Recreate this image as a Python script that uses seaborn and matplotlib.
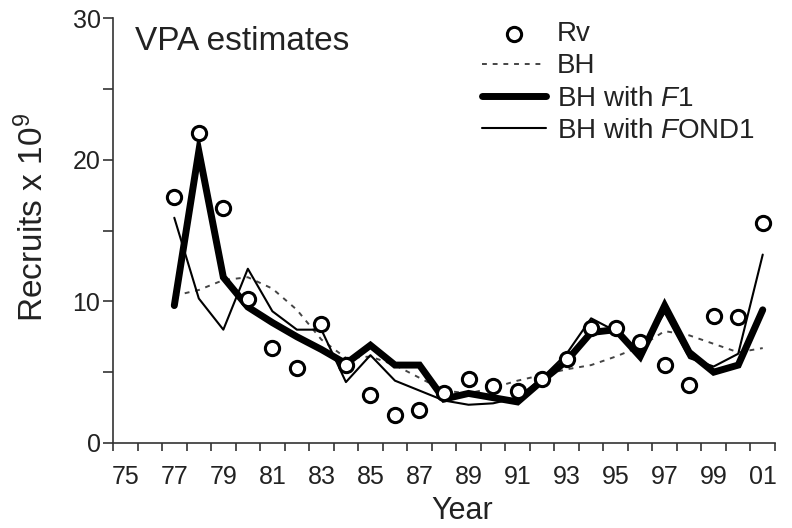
# VPA recruitment estimates vs Beverton-Holt fits
import numpy as np
import pandas as pd
import matplotlib.pyplot as plt
import seaborn as sns
from matplotlib.ticker import FixedLocator, MultipleLocator

# values (recruits x 10^9)
years = list(range(1977, 2002))
rv = [17.4, 21.9, 16.6, 10.2, 6.7, 5.3, 8.4, 5.5, 3.4, 2.0, 2.3, 3.5, 4.5,
      4.0, 3.7, 4.5, 5.9, 8.1, 8.1, 7.1, 5.5, 4.1, 9.0, 8.9, 15.5]
bh = [10.4, 10.8, 11.5, 11.7, 10.9, 9.4, 7.3, 6.0, 6.1, 5.5, 4.6, 3.7, 3.5,
      3.9, 4.4, 4.8, 5.2, 5.5, 6.1, 6.8, 7.9, 7.6, 7.0, 6.4, 6.7]
bh_f1 = [9.7, 20.6, 11.7, 9.6, 8.5, 7.5, 6.6, 5.6, 6.9, 5.5, 5.5, 3.1, 3.5,
         3.2, 2.9, 4.4, 5.8, 7.8, 8.0, 6.1, 9.7, 6.4, 5.0, 5.5, 9.4]
bh_fond1 = [15.9, 10.2, 8.0, 12.3, 9.3, 8.0, 8.0, 4.3, 6.2, 4.4, 3.7, 3.0, 2.7,
            2.8, 3.2, 4.6, 6.3, 8.8, 7.9, 6.5, 9.2, 6.0, 5.4, 6.3, 13.3]

df = pd.DataFrame({'year': years, 'rv': rv, 'bh': bh,
                   'f1': bh_f1, 'fond1': bh_fond1})

sns.set_style('ticks')
plt.rcParams['font.family'] = ['Liberation Sans', 'DejaVu Sans']
plt.rcParams['mathtext.fontset'] = 'custom'
plt.rcParams['mathtext.rm'] = 'Liberation Sans'
plt.rcParams['mathtext.it'] = 'Liberation Sans:italic'
txt = '#222222'
plt.rcParams['text.color'] = txt
plt.rcParams['axes.labelcolor'] = txt

fig = plt.figure(figsize=(7.92, 5.28), dpi=100)
ax = fig.add_axes([113 / 792, 1 - 443 / 528, 662 / 792, 425 / 528])

sns.lineplot(data=df, x='year', y='bh', ax=ax, color='#444444', lw=1.4,
             linestyle=(0, (2.5, 3)), label='BH')
sns.lineplot(data=df, x='year', y='f1', ax=ax, color='black', lw=5,
             solid_joinstyle='miter', label='BH with $\\mathit{F}$1')
sns.lineplot(data=df, x='year', y='fond1', ax=ax, color='black', lw=1.5,
             label='BH with $\\mathit{F}$OND1')
sns.scatterplot(data=df, x='year', y='rv', ax=ax, marker='o', s=105,
                facecolor='white', edgecolor='black', linewidth=2.2,
                zorder=5, label='Rv')

handles, labels = ax.get_legend_handles_labels()
order = ['Rv', 'BH', 'BH with $\\mathit{F}$1', 'BH with $\\mathit{F}$OND1']
hl = dict(zip(labels, handles))
ax.legend([hl[k] for k in order], order, loc='upper left',
          bbox_to_anchor=(482 / 792, 1 - 21 / 528), bbox_transform=fig.transFigure,
          frameon=False, fontsize=20, handlelength=2.3, handletextpad=0.4,
          labelspacing=0.23, borderpad=0, borderaxespad=0)

sns.despine(ax=ax)
for s in ['left', 'bottom']:
    ax.spines[s].set_linewidth(1.2)
    ax.spines[s].set_color('#333333')

ax.set_xlim(1974.5, 2001.5)
ax.set_xticks(list(range(1975, 2002, 2)))
ax.set_xticklabels([f'{y % 100:02d}' for y in range(1975, 2002, 2)])
ax.xaxis.set_minor_locator(FixedLocator(np.arange(1974.5, 2002, 1)))
ax.tick_params(axis='x', which='major', length=0, pad=16, labelsize=18,
               labelcolor=txt)
ax.tick_params(axis='x', which='minor', length=6, width=1.2, color='#333333',
               direction='out')

ax.set_ylim(0, 30)
ax.set_yticks([0, 10, 20, 30])
ax.yaxis.set_minor_locator(MultipleLocator(5))
ax.tick_params(axis='y', which='both', length=7, width=1.2, color='#333333',
               labelsize=18, pad=2, labelcolor=txt)

ax.set_xlabel('Year', fontsize=22)
ax.xaxis.set_label_coords(0.527, -0.125)
ax.set_ylabel('Recruits x 10$^9$', fontsize=24)
ax.yaxis.set_label_coords(-0.095, 0.53)

ax.text(0.033, 0.925, 'VPA estimates', transform=ax.transAxes, fontsize=24,
        va='baseline')

plt.savefig('out.png', dpi=100)
